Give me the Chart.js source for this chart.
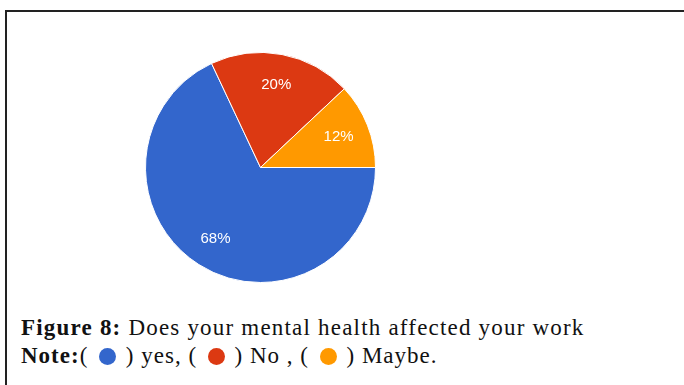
<!DOCTYPE html>
<html lang="en">
<head>
  <meta charset="UTF-8" />
  <title>Figure 8</title>
  <script src="https://cdn.jsdelivr.net/npm/chart.js"></script>
  <style>
    html, body { margin: 0; padding: 0; background: #fff; }
    body { width: 684px; height: 385px; position: relative; overflow: hidden; }
    .frame { position: absolute; left: 5px; top: 10px; width: 700px; height: 400px;
             border-top: 2px solid #222; border-left: 2px solid #222; }
    #pieWrap { position: absolute; left: 145px; top: 52px; width: 231px; height: 231px; }
    .caption { position: absolute; left: 21px; font-family: "Liberation Serif", serif;
               font-size: 23px; letter-spacing: 1.2px; line-height: 28px; color: #111; white-space: nowrap; }
    #line2 { letter-spacing: 1px; }
    .dot { display: inline-block; width: 17px; height: 17px; border-radius: 50%; vertical-align: -2px; margin: 0 3px 0 4px; }
  </style>
</head>
<body>
  <div class="frame"></div>
  <div id="pieWrap"><canvas id="pie" width="231" height="231"></canvas></div>
  <div class="caption" id="line1" style="top:314px"><b>Figure 8:</b> Does your mental health affected your work</div>
  <div class="caption" id="line2" style="top:342px"><b>Note:</b>( <span class="dot" style="background:#3366cc"></span> ) yes, ( <span class="dot" style="background:#dc3912"></span> ) No , ( <span class="dot" style="background:#ff9900"></span> ) Maybe.</div>

  <script>
    const categorias = ['yes', 'No', 'Maybe'];
    const valores = [68, 20, 12];
    const cores = ['#3366cc', '#dc3912', '#ff9900'];

    // rotulos de porcentagem dentro das fatias
    const rotulos = {
      id: 'rotulos',
      afterDatasetsDraw(chart) {
        const { ctx } = chart;
        const meta = chart.getDatasetMeta(0);
        const total = valores.reduce((a, b) => a + b, 0);
        ctx.save();
        ctx.fillStyle = '#fff';
        ctx.font = '15px "Liberation Sans", Arial, sans-serif';
        ctx.textAlign = 'center';
        ctx.textBaseline = 'middle';
        meta.data.forEach((arc, i) => {
          const mid = (arc.startAngle + arc.endAngle) / 2;
          const r = arc.outerRadius * 0.73;
          const x = arc.x + Math.cos(mid) * r;
          const y = arc.y + Math.sin(mid) * r;
          ctx.fillText(Math.round(valores[i] / total * 100) + '%', x, y);
        });
        ctx.restore();
      }
    };

    new Chart(document.getElementById('pie'), {
      type: 'pie',
      data: {
        labels: categorias,
        datasets: [{ data: valores, backgroundColor: cores, borderColor: '#fff', borderWidth: 1 }]
      },
      options: {
        responsive: false,
        animation: false,
        rotation: 90,
        layout: { padding: 0 },
        plugins: { legend: { display: false }, tooltip: { enabled: false } }
      },
      plugins: [rotulos]
    });
  </script>
</body>
</html>
